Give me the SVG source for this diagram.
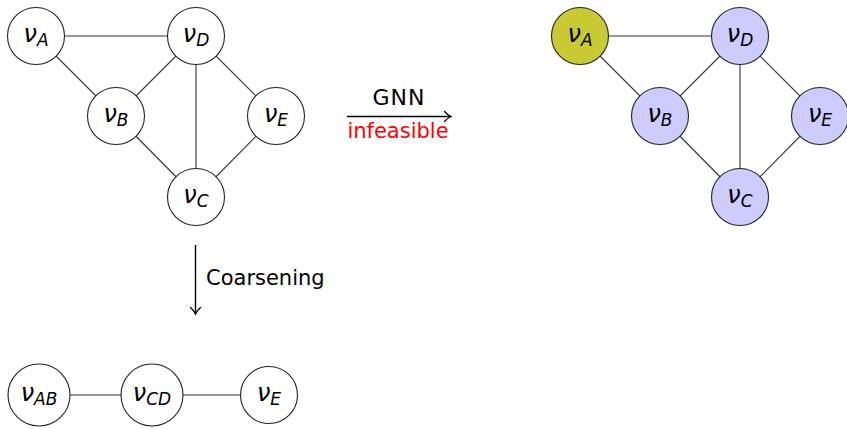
<svg xmlns="http://www.w3.org/2000/svg" width="847" height="429" viewBox="0 0 847 429">
  <style>
    .edge { stroke: #333; stroke-width: 1.1; fill: none; }
    .node { stroke: #222; stroke-width: 1.1; fill: #fff; }
    .blue { fill: #ccccff; }
    .olive { fill: #c9c934; }
    .lbl { font-family: "DejaVu Sans", sans-serif; font-style: italic; font-size: 24px; text-anchor: middle; fill: #000; }
    .sub { font-size: 17px; }
    .txt { font-family: "DejaVu Sans", sans-serif; font-size: 21px; fill: #000; }
    .arrow { stroke: #000; stroke-width: 1.4; fill: none; }
  </style>
  <defs>
    <marker id="tip" markerUnits="userSpaceOnUse" markerWidth="14" markerHeight="14" viewBox="-8 -7 10 14" refX="0" refY="0" orient="auto">
      <path d="M-6.5,-5 C-4,-2.2 -1.5,-0.6 0,0 C-1.5,0.6 -4,2.2 -6.5,5" stroke="#000" stroke-width="1.3" fill="none" stroke-linecap="round"/>
    </marker>
  </defs>

  <!-- connectors -->
  <g id="connectors">
    <!-- original graph -->
    <line class="edge" x1="36" y1="36" x2="196" y2="36"/>
    <line class="edge" x1="36" y1="36" x2="116" y2="116"/>
    <line class="edge" x1="196" y1="36" x2="116" y2="116"/>
    <line class="edge" x1="196" y1="36" x2="196" y2="197"/>
    <line class="edge" x1="196" y1="36" x2="276" y2="116"/>
    <line class="edge" x1="116" y1="116" x2="196" y2="197"/>
    <line class="edge" x1="276" y1="116" x2="196" y2="197"/>
    <!-- classified graph -->
    <line class="edge" x1="580" y1="36" x2="740" y2="36"/>
    <line class="edge" x1="580" y1="36" x2="660" y2="116"/>
    <line class="edge" x1="740" y1="36" x2="660" y2="116"/>
    <line class="edge" x1="740" y1="36" x2="740" y2="197"/>
    <line class="edge" x1="740" y1="36" x2="820" y2="116"/>
    <line class="edge" x1="660" y1="116" x2="740" y2="197"/>
    <line class="edge" x1="820" y1="116" x2="740" y2="197"/>
    <!-- coarsened graph -->
    <line class="edge" x1="39" y1="395" x2="152" y2="395"/>
    <line class="edge" x1="152" y1="395" x2="269" y2="395"/>
    <!-- transformation arrows -->
    <line class="arrow" x1="347" y1="116.5" x2="451" y2="116.5" marker-end="url(#tip)"/>
    <line class="arrow" x1="195.5" y1="245" x2="195.5" y2="314" marker-end="url(#tip)"/>
  </g>

  <!-- arrow labels -->
  <text class="txt" x="399" y="105" text-anchor="middle" font-size="22" letter-spacing="1" style="font-size:22px">GNN</text>
  <text class="txt" x="398" y="138" text-anchor="middle" style="fill:#ff0000">infeasible</text>
  <text class="txt" x="206" y="285">Coarsening</text>

  <!-- original graph nodes -->
  <g id="L_A"><circle class="node" cx="36" cy="36" r="28.5"/><text class="lbl" x="36" y="42">ν<tspan class="sub" dy="4">A</tspan></text></g>
  <g id="L_D"><circle class="node" cx="196" cy="36" r="28.5"/><text class="lbl" x="196" y="42">ν<tspan class="sub" dy="4">D</tspan></text></g>
  <g id="L_B"><circle class="node" cx="116" cy="116" r="28.5"/><text class="lbl" x="116" y="122">ν<tspan class="sub" dy="4">B</tspan></text></g>
  <g id="L_E"><circle class="node" cx="276" cy="116" r="28.5"/><text class="lbl" x="276" y="122">ν<tspan class="sub" dy="4">E</tspan></text></g>
  <g id="L_C"><circle class="node" cx="196" cy="197" r="28.5"/><text class="lbl" x="196" y="203">ν<tspan class="sub" dy="4">C</tspan></text></g>

  <!-- classified graph nodes -->
  <g id="R_A"><circle class="node olive" cx="580" cy="36" r="28.5"/><text class="lbl" x="580" y="42">ν<tspan class="sub" dy="4">A</tspan></text></g>
  <g id="R_D"><circle class="node blue" cx="740" cy="36" r="28.5"/><text class="lbl" x="740" y="42">ν<tspan class="sub" dy="4">D</tspan></text></g>
  <g id="R_B"><circle class="node blue" cx="660" cy="116" r="28.5"/><text class="lbl" x="660" y="122">ν<tspan class="sub" dy="4">B</tspan></text></g>
  <g id="R_E"><circle class="node blue" cx="820" cy="116" r="28.5"/><text class="lbl" x="820" y="122">ν<tspan class="sub" dy="4">E</tspan></text></g>
  <g id="R_C"><circle class="node blue" cx="740" cy="197" r="28.5"/><text class="lbl" x="740" y="203">ν<tspan class="sub" dy="4">C</tspan></text></g>

  <!-- coarsened graph nodes -->
  <g id="C_AB"><circle class="node" cx="39" cy="395" r="31"/><text class="lbl" x="39" y="401">ν<tspan class="sub" dy="4">AB</tspan></text></g>
  <g id="C_CD"><circle class="node" cx="152" cy="395" r="31"/><text class="lbl" x="152" y="401">ν<tspan class="sub" dy="4">CD</tspan></text></g>
  <g id="C_E"><circle class="node" cx="269" cy="395" r="28.5"/><text class="lbl" x="269" y="401">ν<tspan class="sub" dy="4">E</tspan></text></g>
</svg>
